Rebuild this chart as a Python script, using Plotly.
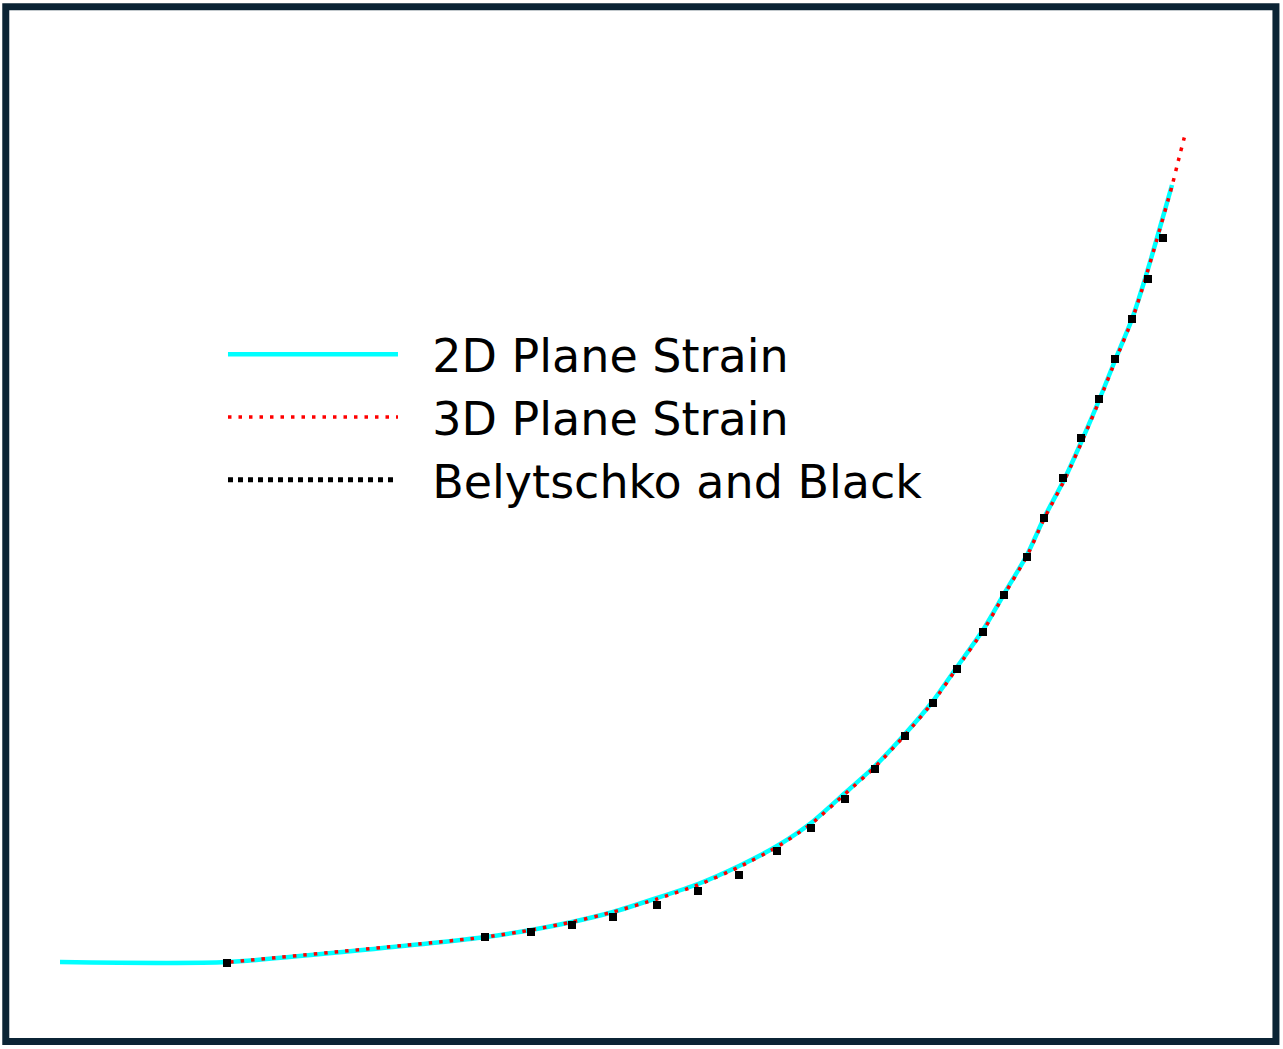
# crack growth comparison plot: 2D vs 3D plane strain vs Belytschko and Black

import plotly.graph_objects as go

# 2D plane strain (solid cyan)
x_2d = [0.0, 16.7, 42.6, 47.1, 51.2, 55.3, 59.7, 63.8, 67.9, 71.7, 75.1, 78.5,
        81.5, 84.5, 87.3, 89.7, 92.3, 94.4, 96.7, 98.4, 100.5, 102.3, 104.0,
        105.6, 107.2, 108.5, 109.7, 111.2]
y_2d = [0.0, 0.0, 2.5, 3.2, 4.0, 5.0, 6.4, 7.8, 9.6, 11.6, 13.9, 16.9,
        19.6, 22.8, 26.1, 29.5, 33.2, 36.8, 40.7, 44.4, 48.4, 52.4, 56.4,
        60.4, 64.3, 68.3, 72.4, 77.7]

# 3D plane strain (red dotted)
x_3d = [17.0, 42.6, 47.1, 51.2, 55.3, 59.7, 63.8, 67.9, 71.7, 75.1, 78.5,
        81.5, 84.5, 87.3, 89.7, 92.3, 94.4, 96.7, 98.4, 100.5, 102.3, 104.0,
        105.6, 107.2, 108.5, 109.7, 111.2, 111.9, 112.6]
y_3d = [0.0, 2.5, 3.2, 4.0, 5.0, 6.3, 7.7, 9.5, 11.5, 13.8, 16.8,
        19.5, 22.7, 26.0, 29.4, 33.1, 36.7, 40.6, 44.3, 48.3, 52.3, 56.3,
        60.3, 64.2, 68.2, 72.3, 77.6, 80.4, 83.1]

# Belytschko and Black reference points (black squares)
x_bb = [16.7, 42.5, 47.1, 51.2, 55.3, 59.7, 63.8, 67.9, 71.7, 75.1, 78.5,
        81.5, 84.5, 87.3, 89.7, 92.3, 94.4, 96.7, 98.4, 100.3, 102.1, 103.9,
        105.5, 107.2, 108.8, 110.3]
y_bb = [-0.1, 2.5, 3.0, 3.7, 4.5, 5.7, 7.1, 8.7, 11.1, 13.4, 16.3,
        19.3, 22.6, 25.9, 29.3, 33.0, 36.7, 40.5, 44.4, 48.4, 52.4, 56.3,
        60.3, 64.3, 68.3, 72.4]

names = ["2D Plane Strain", "3D Plane Strain", "Belytschko and Black"]
# a little room between the legend symbols and their text
pad = "\u00a0\u00a0"

fig = go.Figure()

fig.add_trace(go.Scatter(x=x_2d, y=y_2d, mode="lines", name=pad + names[0],
                         line=dict(color="#00ffff", width=4.5,
                                   shape="spline", smoothing=0.6)))
fig.add_trace(go.Scatter(x=x_3d, y=y_3d, mode="lines", name=pad + names[1],
                         line=dict(color="#ff0000", width=3.5, dash="3.5px,7px",
                                   shape="spline", smoothing=0.6)))
fig.add_trace(go.Scatter(x=x_bb, y=y_bb, mode="markers", name=names[2],
                         legendgroup="bb", showlegend=False,
                         marker=dict(color="black", symbol="square", size=8)))
# legend entry for the reference data drawn as a dotted line
fig.add_trace(go.Scatter(x=[None], y=[None], mode="lines", name=pad + names[2],
                         legendgroup="bb",
                         line=dict(color="black", width=5, dash="5px,5px")))

fig.update_xaxes(visible=False, range=[-6.0, 122.3])
fig.update_yaxes(visible=False, range=[-8.7, 96.2])

# dark frame round the whole picture
fig.add_shape(type="rect", xref="paper", yref="paper",
              x0=0.0045, x1=0.9945, y0=0.0072, y1=0.9935,
              line=dict(color="#0b2435", width=7))

fig.update_layout(
    width=1283,
    height=1049,
    margin=dict(l=0, r=0, t=0, b=0),
    plot_bgcolor="white",
    paper_bgcolor="white",
    showlegend=True,
    legend=dict(
        x=0.1738, y=0.697, xanchor="left", yanchor="top",
        font=dict(family="DejaVu Sans", size=46, color="black"),
        itemwidth=170,
        bgcolor="rgba(0,0,0,0)",
        tracegroupgap=0,
    ),
)

fig.write_html("out.html", config={"displayModeBar": False},
               post_script="document.body.style.margin='0';")
